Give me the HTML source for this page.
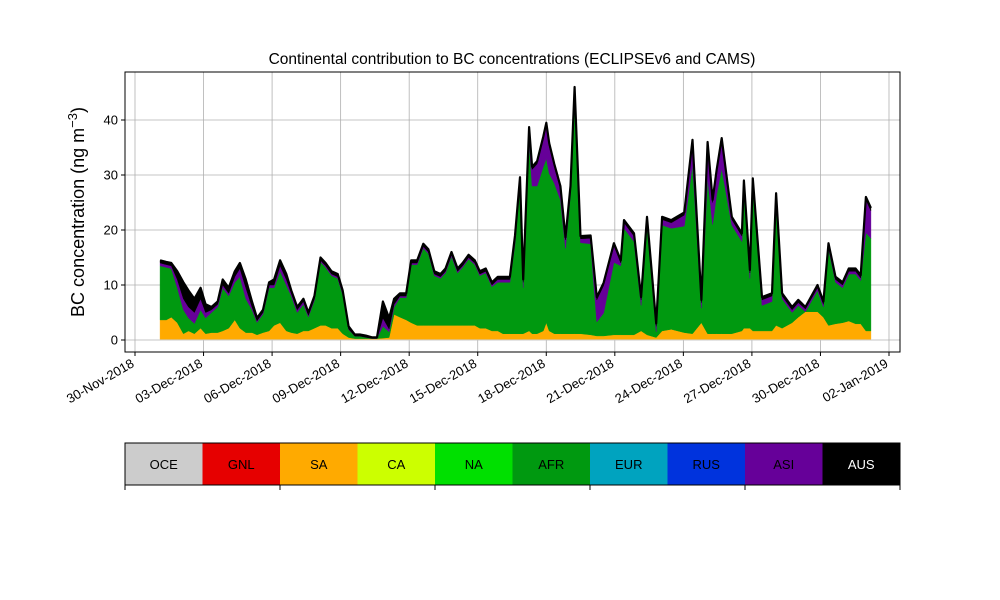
<!DOCTYPE html>
<html><head><meta charset="utf-8"><style>
body{margin:0;background:#fff;}
svg{display:block;font-family:"Liberation Sans","DejaVu Sans",sans-serif;}
</style></head><body>
<svg id="chart" width="1000" height="600"></svg>
<script>
const days=[1.10,1.37,1.59,1.85,2.12,2.34,2.60,2.87,3.09,3.35,3.62,3.84,4.10,4.37,4.59,4.85,5.12,5.34,5.60,5.87,6.09,6.35,6.62,6.84,7.10,7.37,7.59,7.85,8.12,8.34,8.60,8.87,9.09,9.35,9.62,9.84,10.10,10.37,10.59,10.85,11.12,11.34,11.60,11.87,12.09,12.35,12.62,12.84,13.10,13.37,13.59,13.85,14.12,14.34,14.60,14.87,15.09,15.35,15.62,15.88,16.10,16.41,16.63,16.85,16.99,17.25,17.38,17.60,17.87,18.00,18.13,18.35,18.62,18.84,19.06,19.24,19.50,19.94,20.21,20.51,20.96,21.26,21.40,21.84,22.15,22.41,22.81,23.07,23.47,24.04,24.40,24.79,25.06,25.28,25.46,25.68,26.12,26.56,26.65,26.91,27.04,27.44,27.88,28.06,28.32,28.76,29.03,29.34,29.87,30.13,30.35,30.66,30.97,31.24,31.54,31.76,31.99,32.21];
const total=[14.5,14.2,14.0,12.5,10.5,9.0,7.5,9.5,6.5,6.0,7.0,11.0,9.5,12.5,14.0,11.0,7.0,4.0,5.5,10.5,11.0,14.5,12.0,9.0,6.0,7.5,5.0,8.0,15.0,14.0,12.5,12.0,9.0,2.5,1.0,1.0,0.8,0.5,0.5,7.0,4.0,7.5,8.5,8.5,14.5,14.5,17.5,16.5,12.5,12.0,13.0,16.0,13.0,14.0,15.5,14.5,12.5,13.0,10.5,11.5,11.5,11.5,19,29.6,11,38.7,31.5,32.5,37,39.5,35.8,32,28,18.7,28,46,18.9,19,7.8,10.4,17.6,14.5,21.8,19.4,7.8,22.4,3,22.4,21.8,23.2,36.4,7.3,36,25.5,31,36.7,22.4,19.4,29,12.7,29.4,7.8,8.5,26.7,8.5,6,7.3,6,10,7,17.6,11.5,10.5,13,13,11.8,26,24];
const asi=[0.5,0.5,0.5,1.5,2,2,2,2,1,0.5,0.5,0.5,0.5,1,1.5,2,0.5,0.3,0.3,0.5,0.5,1,1,0.5,0.5,0.5,0.3,0.3,0.3,0.3,0.3,0.3,0.3,0.1,0,0,0,0,0,1.5,0.5,0.5,0.3,0.3,0.3,0.3,0.3,0.3,0.3,0.3,0.3,0.3,0.3,0.3,0.3,0.3,0.3,0.3,0.3,0.5,0.5,0.5,1,1,1,2,3,4,5,6,5,3,2,1.5,1,1,0.7,1,4,5,3,0.5,1,1,1,1,1,1,1,2,4,1,6,4,4,5,1,1,1,1,1,1,1,1,0.5,0.5,0.5,0.5,0.5,0.5,0.5,0.5,0.5,0.5,0.5,0.5,6,5];
const aus=[0.5,0.5,0.5,1.5,3,3,2.5,2,1.5,0.5,0.5,1,1,1,1,1.5,1,0.5,0.5,0.5,1,1,1,0.5,0.5,0.5,0.5,0.5,0.5,0.5,0.5,0.5,0.5,0.5,0.3,0.3,0.3,0.2,0.2,3,2,1,0.5,0.5,0.5,0.5,0.5,0.5,0.5,0.5,0.5,0.5,0.5,0.5,0.5,0.5,0.5,0.5,0.5,0.5,0.5,0.5,0.5,0.5,0.5,0.5,0.5,0.5,0.5,0.5,0.5,0.5,0.5,0.5,0.5,0.5,0.5,0.5,0.5,0.5,0.5,0.5,0.5,0.5,0.5,0.5,0.5,0.5,0.5,0.5,0.5,0.5,0.5,0.5,0.5,0.5,0.5,0.5,0.5,0.5,0.5,0.5,0.5,0.5,0.5,0.5,0.5,0.5,0.5,0.5,0.5,0.5,0.5,0.5,0.5,0.5,0.5,0.5];
const sa=[3.5,3.5,4,3,1,1.5,1,2,1,1.2,1.2,1.5,2,3.5,2,1.2,1.2,0.8,1.2,1.5,2.5,3,1.5,1.2,1,1.5,1.5,2,2.5,2.5,2,2,1,0.3,0.1,0.1,0.1,0.1,0.1,0.2,0.3,4.5,4,3.5,3,2.5,2.5,2.5,2.5,2.5,2.5,2.5,2.5,2.5,2.5,2.5,2,2,1.5,1.5,1,1,1,1,1,1.5,1,1,1.5,3,1.5,1,1,1,1,1,1,0.8,0.6,0.6,0.8,0.8,0.8,0.8,1.5,0.8,0.3,1.5,1.8,1.2,1,3,1,1,1,1,1,1.5,2,2,1.5,1.5,1.5,2.5,2,3,4,5,5,4,2.5,2.8,3,3.3,2.8,2.8,1.5,1.5];
const oce=0.15;
const yTicks=[0,10,20,30,40];
const xTickDays=[0,3,6,9,12,15,18,21,24,27,30,33];
const xTickLabels=["30-Nov-2018","03-Dec-2018","06-Dec-2018","09-Dec-2018","12-Dec-2018","15-Dec-2018","18-Dec-2018","21-Dec-2018","24-Dec-2018","27-Dec-2018","30-Dec-2018","02-Jan-2019"];
const regions=["OCE","GNL","SA","CA","NA","AFR","EUR","RUS","ASI","AUS"];
const regionColors=["#cccccc","#e60000","#ffaa00","#ccff00","#00e000","#009910","#00a3bf","#0033dd","#660099","#000000"];

const NS="http://www.w3.org/2000/svg";
const svg=document.getElementById('chart');
const L=125,R=900,T=72,B=352;
const xS=d=>135+d*(889-135)/33;
const yS=v=>340-v*5.5;
function mk(tag,attrs,parent){const e=document.createElementNS(NS,tag);for(const k in attrs)e.setAttribute(k,attrs[k]);(parent||svg).appendChild(e);return e;}

// grid
yTicks.forEach(v=>{const g=mk('line',{x1:L,x2:R,y1:yS(v),y2:yS(v),stroke:'#b0b0b0','stroke-width':0.8});

});
xTickDays.forEach(d=>{const g=mk('line',{x1:xS(d),x2:xS(d),y1:T,y2:B,stroke:'#b0b0b0','stroke-width':0.8});

});

// stacks
const afr=total.map((t,i)=>Math.max(0,t-asi[i]-aus[i]-sa[i]-oce));
const layers=[[days.map(()=>oce),'#cccccc','layer-oce'],[sa,'#ffaa00','layer-sa'],[afr,'#009910','layer-afr'],[asi,'#660099','layer-asi'],[aus,'#000000','layer-aus']];
let base=days.map(()=>0);
layers.forEach(([vals,col,name])=>{
  const top=base.map((b,i)=>b+vals[i]);
  let d='M'+days.map((t,i)=>xS(t).toFixed(1)+','+yS(top[i]).toFixed(1)).join('L');
  for(let i=days.length-1;i>=0;i--)d+='L'+xS(days[i]).toFixed(1)+','+yS(base[i]).toFixed(1);
  const p=mk('path',{d:d+'Z',fill:col,stroke:col,'stroke-width':0.5});
  
  
  base=top;
});
const outline=mk('path',{d:'M'+days.map((t,i)=>xS(t).toFixed(1)+','+yS(total[i]).toFixed(1)).join('L'),fill:'none',stroke:'#000','stroke-width':2.2,'stroke-linejoin':'round'});



// frame
const fr=mk('rect',{x:L,y:T,width:R-L,height:B-T,fill:'none',stroke:'#000','stroke-width':1});



// y ticks
yTicks.forEach(v=>{
  const t=mk('line',{x1:L-4,x2:L,y1:yS(v),y2:yS(v),stroke:'#000'});
  
  
  const tx=mk('text',{x:L-7,y:yS(v)+4.5,'text-anchor':'end','font-size':13});
  tx.textContent=v;
  
  
});
xTickDays.forEach((d,i)=>{
  const t=mk('line',{x1:xS(d),x2:xS(d),y1:B,y2:B+4,stroke:'#000'});
  
  
  const x=xS(d),y=B+14;
  const tx=mk('text',{x:x,y:y,'text-anchor':'end','font-size':13,transform:`rotate(-30 ${x} ${y})`});
  tx.textContent=xTickLabels[i];
  
  
});

// title + y label
const ti=mk('text',{x:512,y:64,'text-anchor':'middle','font-size':15.5});
ti.textContent='Continental contribution to BC concentrations (ECLIPSEv6 and CAMS)';


const yl=mk('text',{x:84,y:212,'text-anchor':'middle','font-size':18,transform:'rotate(-90 84 212)'});
yl.innerHTML='BC concentration (ng m<tspan dy="-7" font-size="13">−3</tspan><tspan dy="7">)</tspan>';



// colorbar legend
const w=(900-125)/regions.length;
regions.forEach((r,i)=>{
  const rc=mk('rect',{x:125+i*w,y:443,width:w,height:42,fill:regionColors[i]});
  
  
  const tx=mk('text',{x:125+i*w+w/2,y:469,'text-anchor':'middle','font-size':13,fill:r==='AUS'?'#fff':'#000'});
  tx.textContent=r;
  
  
});
const cb=mk('rect',{x:125,y:443,width:775,height:42,fill:'none',stroke:'#000','stroke-width':1});


[0,1,2,3,4,5].forEach(k=>{
  const t=mk('line',{x1:125+k*155,x2:125+k*155,y1:485,y2:490,stroke:'#000'});
  
  
});
</script>
</body></html>
